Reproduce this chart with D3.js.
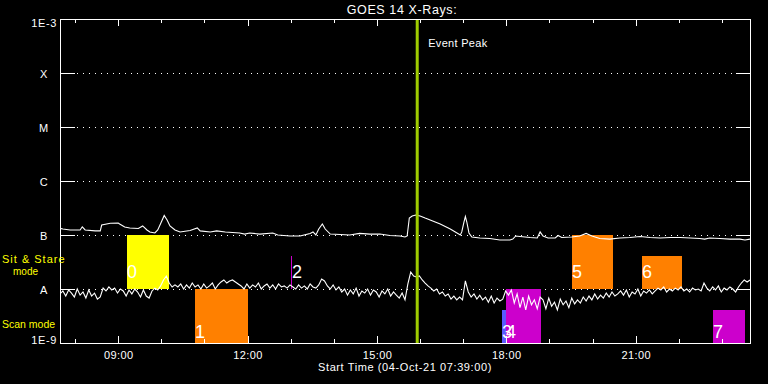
<!DOCTYPE html>
<html><head><meta charset="utf-8">
<script src="https://cdn.jsdelivr.net/npm/d3@7"></script>
<style>
html,body{margin:0;padding:0;background:#000;}
svg{display:block;}
text{font-family:"Liberation Sans",Arial,sans-serif;}
</style></head><body>
<svg id="chart" width="768" height="384"></svg>
<script>
// ---------- data ----------
const titleText = "GOES 14 X-Rays:";
const startLabel = "Start Time (04-Oct-21 07:39:00)";
const startTime = "2021-10-04T07:39:00Z";
const durationHours = 16;
const eventPeakTime = "15:56";

const yTickValues = [1e-9, 1e-8, 1e-7, 1e-6, 1e-5, 1e-4, 1e-3];
const yTickLabels = ["1E-9", "A", "B", "C", "M", "X", "1E-3"];
const gridLevels = [1e-8, 1e-7, 1e-6, 1e-5, 1e-4];

// long channel (1-8 A), minutes after start, flux in units of 1e-7 W/m2
const longMinutes = [0,4,14,28,31,35,49,56,58,70,81,83,90,97,109,115,121,125,132,136,141,145,149,153,160,167,181,191,195,209,218,230,250,257,264,278,296,303,320,334,348,352,356,360,365,369,376,390,403,417,431,445,459,473,480,483,486,490,495,501,508,515,522,529,536,543,550,557,559,562,564,566,569,573,584,598,612,626,630,634,640,654,664,668,672,679,689,693,698,712,723,732,740,751,765,779,793,807,821,835,849,863,877,890,897,904,918,932,946,953,960];
const longFlux = [1.33,1.29,1.24,1.24,1.42,1.24,1.19,1.19,1.53,1.65,1.67,1.60,1.41,1.35,1.32,1.47,1.24,1.14,1.09,1.24,1.74,2.30,1.90,1.47,1.24,1.14,1.21,1.35,1.19,1.14,1.19,1.14,1.09,1.04,1.09,1.04,1.09,1.00,0.96,0.96,1.07,1.14,1.00,1.29,1.60,1.29,1.04,1.02,1.00,1.07,1.04,1.04,0.98,0.96,0.92,0.96,2.06,2.25,2.35,2.25,2.06,1.90,1.74,1.60,1.44,1.29,1.14,1.00,1.14,1.74,2.20,1.74,1.09,0.92,0.88,0.86,0.81,0.81,0.84,0.96,0.94,0.90,0.88,1.14,0.96,0.88,0.88,0.98,0.90,0.92,0.96,1.07,0.96,0.86,0.84,0.88,0.90,0.94,0.90,0.88,0.90,0.90,0.88,0.86,0.84,0.88,0.86,0.84,0.84,0.81,0.84];
const longUnit = 1e-7;

// short channel (0.5-4 A), one value every 4 minutes, flux in units of 1e-8 W/m2
const shortCadenceMin = 4;
const shortFlux = [
0.81,0.92,0.74,0.96,0.84,0.71,1.00,0.77,0.88,0.68,0.96,0.74,0.84,0.65,
0.71,1.04,0.92,1.09,
0.96,1.04,0.84,1.00,0.92,
0.74,0.96,0.81,1.00,
0.88,0.71,0.96,0.74,0.68,
0.92,1.04,0.96,1.14,1.47,
1.74,1.29,1.09,1.19,
1.09,1.24,1.00,1.19,1.04,1.29,1.09,1.19,1.00,1.24,1.04,1.14,1.29,1.00,1.19,
1.35,1.47,1.29,1.41,1.47,1.35,1.24,
1.14,1.00,1.24,1.04,1.19,1.09,1.29,1.00,1.14,1.24,1.04,1.19,1.00,1.24,1.09,1.14,1.04,1.19,
1.09,1.00,1.19,1.04,1.14,1.00,1.24,1.09,1.04,1.19,
1.53,1.41,
1.14,1.00,1.19,0.96,1.09,
0.88,1.00,0.77,0.96,0.81,1.04,0.74,0.92,0.84,1.00,0.77,0.96,0.88,0.71,0.92,0.81,1.00,0.74,0.88,0.77,0.68,
0.84,0.63,
1.24,2.06,1.74,1.67,1.74,1.47,1.29,1.14,1.04,0.92,1.00,0.81,0.88,0.74,0.81,0.65,0.74,0.63,0.71,0.63,1.41,0.88,0.71,0.81,0.65,0.77,0.63,0.71,0.57,0.74,0.55,0.68,0.60,0.65,0.92,
0.77,0.96,0.55,0.81,0.45,0.71,0.41,0.74,0.51,0.63,0.43,0.71,
0.63,0.43,0.68,0.48,0.57,0.41,0.65,0.51,0.60,0.45,0.68,0.53,0.63,
0.55,0.71,0.60,0.74,0.63,0.81,0.65,0.77,0.68,0.84,0.71,0.88,0.74,0.81,0.92,
0.77,0.96,0.71,0.88,0.81,1.00,0.74,0.92,0.84,0.96,0.81,
0.92,1.04,0.96,1.09,0.88,1.00,0.92,1.04,0.96,1.09,0.92,1.00,0.88,1.04,0.96,1.00,0.92,1.29,
1.04,0.92,1.09,0.96,1.14,0.88,1.04,0.96,1.09,1.00,
0.88,1.09,1.29,1.47,1.35,1.47];
const shortUnit = 1e-8;

// observation blocks
const boxLabels = ["0", "1", "2", "3", "4", "5", "6", "7"];
const boxStart  = ["09:12", "10:47", "13:01", "17:54", "18:00", "19:31", "21:09", "22:47"];
const boxEnd    = ["10:10", "12:00", "13:01", "18:00", "18:48", "20:28", "22:05", "23:32"];
const boxBottom = [1e-8, 1e-9, 1e-8, 1e-9, 1e-9, 1e-8, 1e-8, 1e-9];
const boxTop    = [1e-7, 1e-8, 4.1e-8, 4.1e-9, 1e-8, 1e-7, 4.1e-8, 4.1e-9];
const boxKind   = ["sit", "scan", "mag", "blue", "mag", "scan", "scan", "mag"];

// ---------- drawing ----------
const colors = {sit: "#ffff00", scan: "#ff8000", mag: "#cc00cc", blue: "#5a5aff"};
const pL = 60, pR = 750, pT = 19, pB = 343;

const t0 = new Date(startTime);
const t1 = new Date(+t0 + durationHours * 3600e3);
const atClock = s => { const [h, m] = s.split(":").map(Number); return new Date(Date.UTC(2021, 9, 4, h, m)); };

const x = d3.scaleUtc().domain([t0, t1]).range([pL, pR]);
const y = d3.scaleLog().domain([1e-9, 1e-3]).range([pB, pT]);

const svg = d3.select("#chart");
svg.append("rect").attr("width", 768).attr("height", 384).attr("fill", "#000");

svg.append("defs").append("clipPath").attr("id", "plot")
  .append("rect").attr("x", pL).attr("y", pT).attr("width", pR - pL).attr("height", pB - pT);

// grid (dotted) and side ticks
const grid = svg.append("g").attr("shape-rendering", "crispEdges");
gridLevels.forEach(v => {
  const yy = Math.round(y(v)) + 0.5;
  grid.append("line").attr("x1", pL + 17).attr("x2", pR - 14).attr("y1", yy).attr("y2", yy)
    .attr("stroke", "#fff").attr("stroke-dasharray", "1,5");
  grid.append("line").attr("x1", pL).attr("x2", pL + 15).attr("y1", yy).attr("y2", yy).attr("stroke", "#fff");
  grid.append("line").attr("x1", pR - 14).attr("x2", pR).attr("y1", yy).attr("y2", yy).attr("stroke", "#fff");
});

// boxes
const boxes = svg.append("g").attr("shape-rendering", "crispEdges");
boxLabels.forEach((lab, i) => {
  const x0 = Math.round(x(atClock(boxStart[i]))), x1 = Math.round(x(atClock(boxEnd[i])));
  const y0 = Math.round(y(boxTop[i])), y1 = Math.round(y(boxBottom[i]));
  boxes.append("rect").attr("x", x0).attr("y", y0)
    .attr("width", Math.max(1, x1 - x0)).attr("height", y1 - y0)
    .attr("fill", colors[boxKind[i]]);
});

// curves
const curves = svg.append("g").attr("clip-path", "url(#plot)");
const longData = longMinutes.map((m, i) => [new Date(+t0 + m * 60e3), longFlux[i] * longUnit]);
const shortData = shortFlux.map((v, i) => [new Date(+t0 + i * shortCadenceMin * 60e3), v * shortUnit]);
const line = d3.line().x(d => x(d[0])).y(d => y(d[1]));
curves.append("path").datum(longData).attr("d", line)
  .attr("fill", "none").attr("stroke", "#fff").attr("stroke-width", 1.1);
curves.append("path").datum(shortData).attr("d", line)
  .attr("fill", "none").attr("stroke", "#fff").attr("stroke-width", 1.1);

// box labels
const blab = svg.append("g");
boxLabels.forEach((lab, i) => {
  const x0 = Math.round(x(atClock(boxStart[i])));
  const yb = boxBottom[i] === 1e-9 ? y(1e-9) - 5 : y(1e-8) - 11;
  blab.append("text").attr("x", x0 + (boxStart[i] === boxEnd[i] ? 1 : 0))
    .attr("y", yb).attr("fill", "#fff").attr("font-size", 18).attr("font-weight", 300).text(lab);
});

// event peak
const px = x(atClock(eventPeakTime));
svg.append("line").attr("x1", px).attr("x2", px).attr("y1", pT).attr("y2", pB)
  .attr("stroke", "#9fcc00").attr("stroke-width", 3);
svg.append("text").attr("x", px + 11).attr("y", 47).attr("fill", "#fff")
  .attr("font-size", 11).attr("letter-spacing", 0.3).text("Event Peak");

// x axes (ticks inward)
const styleAxis = g => { g.select(".domain").remove(); g.selectAll("line").attr("stroke", "#fff"); g.attr("shape-rendering", "crispEdges"); };
svg.append("g").attr("transform", `translate(0,${pB})`)
  .call(d3.axisBottom(x).ticks(d3.utcHour.every(1)).tickSize(-4).tickFormat(""))
  .call(styleAxis);
const major = svg.append("g").attr("transform", `translate(0,${pB})`)
  .call(d3.axisBottom(x).ticks(d3.utcHour.every(3)).tickSize(-7).tickFormat(d3.utcFormat("%H:%M")))
  .call(styleAxis);
major.selectAll("text").attr("y", 16).attr("dy", null).attr("fill", "#fff")
  .attr("font-size", 11).attr("font-family", "Liberation Sans, Arial, sans-serif").attr("letter-spacing", 0.4);
svg.append("g").attr("transform", `translate(0,${pT})`)
  .call(d3.axisTop(x).ticks(d3.utcHour.every(1)).tickSize(-4).tickFormat(""))
  .call(styleAxis);
svg.append("g").attr("transform", `translate(0,${pT})`)
  .call(d3.axisTop(x).ticks(d3.utcHour.every(3)).tickSize(-7).tickFormat(""))
  .call(styleAxis);

// frame
svg.append("rect").attr("x", pL + 0.5).attr("y", pT + 0.5)
  .attr("width", pR - pL).attr("height", pB - pT)
  .attr("fill", "none").attr("stroke", "#fff").attr("shape-rendering", "crispEdges");

// y labels
yTickValues.forEach((v, i) => {
  const lab = yTickLabels[i];
  const t = svg.append("text").attr("fill", "#fff").attr("font-size", 11).attr("letter-spacing", 0.6).text(lab);
  if (lab.startsWith("1E")) {
    t.attr("x", 57).attr("text-anchor", "end").attr("y", i === 0 ? y(v) + 1 : y(v) + 8);
  } else {
    t.attr("x", 44).attr("text-anchor", "middle").attr("y", y(v) + 5);
  }
});

// mode labels
svg.append("text").attr("x", 2).attr("y", 263).attr("fill", "#ffff00").attr("font-size", 11).attr("letter-spacing", 1).text("Sit & Stare");
svg.append("text").attr("x", 13).attr("y", 275).attr("fill", "#ffff00").attr("font-size", 10).attr("letter-spacing", 0).text("mode");
svg.append("text").attr("x", 2).attr("y", 328).attr("fill", "#ffff00").attr("font-size", 10.5).attr("letter-spacing", 0).text("Scan mode");

// title and footer
svg.append("text").attr("x", (pL + pR) / 2 - 3).attr("y", 14).attr("text-anchor", "middle")
  .attr("fill", "#fff").attr("font-size", 12.5).attr("letter-spacing", 0.6).text(titleText);
svg.append("text").attr("x", (pL + pR) / 2).attr("y", 371).attr("text-anchor", "middle")
  .attr("fill", "#fff").attr("font-size", 11).attr("letter-spacing", 0.6).text(startLabel);
</script></body></html>
